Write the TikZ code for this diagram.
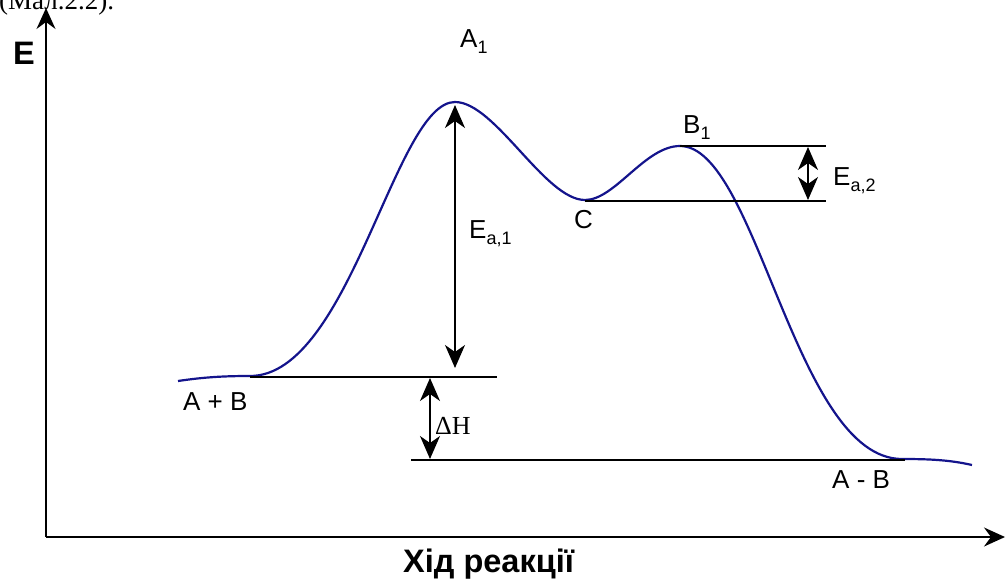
\documentclass[tikz,border=0pt]{standalone}
\usepackage{fontspec}
\setmainfont{Liberation Sans}
\newfontfamily\serifrm{Liberation Serif}
\usetikzlibrary{arrows.meta}
\definecolor{curveblue}{RGB}{20,20,140}
\newcommand{\mysub}[1]{\raisebox{-0.22em}{\fontsize{18}{18}\selectfont #1}}
\tikzset{
  lbl/.style={inner sep=0pt, anchor=base west, font=\fontsize{26}{30}\selectfont},
  axislbl/.style={inner sep=0pt, anchor=base west, font=\fontsize{32.5}{36}\selectfont\bfseries},
  bighead/.tip={Stealth[length=23pt,width=20pt,inset=7pt]},
  axishead/.tip={Stealth[length=21pt,width=19pt,inset=7pt]},
  axis/.style={line width=1.8pt, -axishead},
  level/.style={line width=1.3pt},
  dbl/.style={line width=1.6pt, bighead-bighead},
  energy/.style={line width=2.2pt, curveblue, line join=round},
}
\begin{document}
\begin{tikzpicture}[x=1pt,y=-1pt]
\useasboundingbox (0,0) rectangle (1007,580);
% caption remnant
\node[inner sep=0pt, anchor=base west, font=\fontsize{27}{30}\selectfont\serifrm] (cap) at (-1,10) {(Мал.2.2).};
% axes
\coordinate (O) at (46,537);
\coordinate (ytip) at (46,8);
\coordinate (xtip) at (1005,537);
\draw[axis] (O) -- (ytip);
\draw[axis] (O) -- (xtip);
\node[axislbl] (E) at (13,65) {E};
\node[axislbl] (xl) at (403,572) {Хід реакції};
% energy curve
\coordinate (s0) at (178,381);
\coordinate (s1) at (250,376);
\coordinate (pkA) at (455,102);
\coordinate (trC) at (585,200);
\coordinate (pkB) at (680,146);
\coordinate (s5) at (902,459);
\coordinate (s6) at (972,465);
\draw[energy] (s0) .. controls (205,377) and (225,376) .. (s1)
  .. controls (350,376) and (395,102) .. (pkA)
  .. controls (495,102) and (545,200) .. (trC)
  .. controls (615,200) and (645,146) .. (pkB)
  .. controls (757,146) and (795,459) .. (s5)
  .. controls (930,459) and (950,460) .. (s6);
% level lines
\coordinate (ab1) at (250,377);
\coordinate (ab2) at (497,377);
\coordinate (p1) at (411,460);
\coordinate (p2) at (905,460);
\coordinate (c1) at (585,201);
\coordinate (c2) at (826,201);
\coordinate (b1) at (680,146);
\coordinate (b2) at (826,146);
\draw[level] (ab1) -- (ab2);
\draw[level] (p1) -- (p2);
\draw[level] (c1) -- (c2);
\draw[level] (b1) -- (b2);
% energy arrows
\coordinate (ea1t) at (455,105);
\coordinate (ea1b) at (455,368);
\coordinate (dht) at (430,378);
\coordinate (dhb) at (430,459);
\coordinate (ea2t) at (808,147);
\coordinate (ea2b) at (808,200);
\draw[dbl] (ea1t) -- (ea1b);
\draw[dbl] (dht) -- (dhb);
\draw[dbl] (ea2t) -- (ea2b);
% labels
\node[lbl] (A1) at (460,48) {A\mysub{1}};
\node[lbl] (B1) at (683,134) {B\mysub{1}};
\node[lbl] (C) at (574,229) {C};
\node[lbl] (Ea1) at (469,239) {E\mysub{a,1}};
\node[lbl] (Ea2) at (833,186) {E\mysub{a,2}};
\node[lbl] (AB) at (183,410) {A + B};
\node[lbl] (AmB) at (832,488) {A - B};
\node[lbl, font=\fontsize{26}{30}\selectfont\serifrm] (dH) at (435,434) {ΔH};
\end{tikzpicture}
\end{document}
